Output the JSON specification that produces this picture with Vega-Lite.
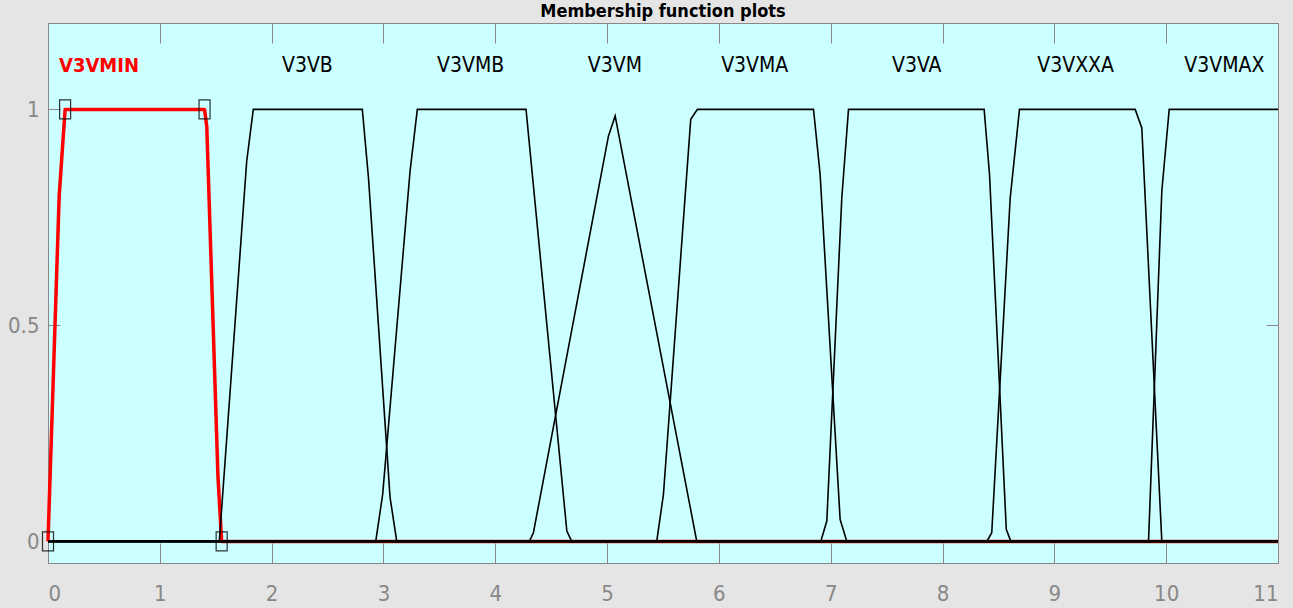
{
  "$schema": "https://vega.github.io/schema/vega-lite/v6.json",
  "width": 1230,
  "height": 540,
  "autosize": {"type": "none"},
  "padding": {"left": 48, "top": 23, "right": 15, "bottom": 45},
  "background": "#e5e5e5",
  "config": {
    "view": {"fill": "#ccffff", "stroke": "#888888", "strokeWidth": 1},
    "axis": {"grid": false, "domainColor": "#888888", "tickColor": "#888888", "labelColor": "#888888", "labelFont": "DejaVu Sans Condensed, DejaVu Sans, sans-serif", "labelFontSize": 22, "title": null}
  },
  "datasets": {
    "mf": [
      {"mf": "V3VMIN", "x": 0, "y": 0}, {"mf": "V3VMIN", "x": 0.1, "y": 0.8}, {"mf": "V3VMIN", "x": 0.153, "y": 1}, {"mf": "V3VMIN", "x": 1.4, "y": 1}, {"mf": "V3VMIN", "x": 1.42, "y": 0.96}, {"mf": "V3VMIN", "x": 1.52, "y": 0.15}, {"mf": "V3VMIN", "x": 1.553, "y": 0}, {"mf": "V3VMIN", "x": 11, "y": 0},
      {"mf": "V3VB", "x": 0, "y": 0}, {"mf": "V3VB", "x": 1.532, "y": 0}, {"mf": "V3VB", "x": 1.777, "y": 0.88}, {"mf": "V3VB", "x": 1.836, "y": 1}, {"mf": "V3VB", "x": 2.811, "y": 1}, {"mf": "V3VB", "x": 2.866, "y": 0.842}, {"mf": "V3VB", "x": 3.059, "y": 0.102}, {"mf": "V3VB", "x": 3.119, "y": 0}, {"mf": "V3VB", "x": 11, "y": 0},
      {"mf": "V3VMB", "x": 0, "y": 0}, {"mf": "V3VMB", "x": 2.931, "y": 0}, {"mf": "V3VMB", "x": 2.993, "y": 0.109}, {"mf": "V3VMB", "x": 3.238, "y": 0.857}, {"mf": "V3VMB", "x": 3.303, "y": 1}, {"mf": "V3VMB", "x": 4.275, "y": 1}, {"mf": "V3VMB", "x": 4.64, "y": 0.024}, {"mf": "V3VMB", "x": 4.684, "y": 0}, {"mf": "V3VMB", "x": 11, "y": 0},
      {"mf": "V3VM", "x": 0, "y": 0}, {"mf": "V3VM", "x": 4.305, "y": 0}, {"mf": "V3VM", "x": 4.341, "y": 0.02}, {"mf": "V3VM", "x": 5.012, "y": 0.938}, {"mf": "V3VM", "x": 5.072, "y": 0.985}, {"mf": "V3VM", "x": 5.802, "y": 0}, {"mf": "V3VM", "x": 11, "y": 0},
      {"mf": "V3VMA", "x": 0, "y": 0}, {"mf": "V3VMA", "x": 5.444, "y": 0}, {"mf": "V3VMA", "x": 5.504, "y": 0.109}, {"mf": "V3VMA", "x": 5.748, "y": 0.977}, {"mf": "V3VMA", "x": 5.808, "y": 1}, {"mf": "V3VMA", "x": 6.846, "y": 1}, {"mf": "V3VMA", "x": 6.905, "y": 0.85}, {"mf": "V3VMA", "x": 7.084, "y": 0.051}, {"mf": "V3VMA", "x": 7.144, "y": 0}, {"mf": "V3VMA", "x": 11, "y": 0},
      {"mf": "V3VA", "x": 0, "y": 0}, {"mf": "V3VA", "x": 6.911, "y": 0}, {"mf": "V3VA", "x": 6.965, "y": 0.047}, {"mf": "V3VA", "x": 7.099, "y": 0.795}, {"mf": "V3VA", "x": 7.159, "y": 1}, {"mf": "V3VA", "x": 8.372, "y": 1}, {"mf": "V3VA", "x": 8.42, "y": 0.85}, {"mf": "V3VA", "x": 8.57, "y": 0.028}, {"mf": "V3VA", "x": 8.611, "y": 0}, {"mf": "V3VA", "x": 11, "y": 0},
      {"mf": "V3VXXA", "x": 0, "y": 0}, {"mf": "V3VXXA", "x": 8.396, "y": 0}, {"mf": "V3VXXA", "x": 8.44, "y": 0.02}, {"mf": "V3VXXA", "x": 8.605, "y": 0.795}, {"mf": "V3VXXA", "x": 8.688, "y": 1}, {"mf": "V3VXXA", "x": 9.723, "y": 1}, {"mf": "V3VXXA", "x": 9.782, "y": 0.957}, {"mf": "V3VXXA", "x": 9.961, "y": 0}, {"mf": "V3VXXA", "x": 11, "y": 0},
      {"mf": "V3VMAX", "x": 0, "y": 0}, {"mf": "V3VMAX", "x": 9.842, "y": 0}, {"mf": "V3VMAX", "x": 9.961, "y": 0.811}, {"mf": "V3VMAX", "x": 10.027, "y": 1}, {"mf": "V3VMAX", "x": 11, "y": 1}
    ],
    "handles": [
      {"x": 0, "y": 0}, {"x": 0.153, "y": 1}, {"x": 1.4, "y": 1}, {"x": 1.553, "y": 0}
    ],
    "labels": [
      {"label": "V3VMIN", "x": 0.456, "y": 1.1, "sel": true},
      {"label": "V3VB", "x": 2.32, "y": 1.1, "sel": false},
      {"label": "V3VMB", "x": 3.78, "y": 1.1, "sel": false},
      {"label": "V3VM", "x": 5.07, "y": 1.1, "sel": false},
      {"label": "V3VMA", "x": 6.32, "y": 1.1, "sel": false},
      {"label": "V3VA", "x": 7.77, "y": 1.1, "sel": false},
      {"label": "V3VXXA", "x": 9.19, "y": 1.1, "sel": false},
      {"label": "V3VMAX", "x": 10.52, "y": 1.1, "sel": false}
    ],
    "title": [
      {"text": "Membership function plots", "x": 5.5, "y": 1.214}
    ]
  },
  "resolve": {"axis": {"x": "independent", "y": "independent"}},
  "layer": [
    {
      "data": {"name": "mf"},
      "transform": [{"filter": "datum.mf === 'V3VMIN'"}],
      "mark": {"type": "line", "color": "#ff0000", "strokeWidth": 3.5, "strokeJoin": "round"},
      "encoding": {
        "x": {"field": "x", "type": "quantitative", "scale": {"domain": [0, 11], "nice": false, "zero": false},
              "axis": {"orient": "bottom", "values": [0,1,2,3,4,5,6,7,8,9,10,11], "format": "d", "tickSize": -20, "labelPadding": 40, "labelBaseline": "top"}},
        "y": {"field": "y", "type": "quantitative", "scale": {"domain": [-0.05, 1.2], "nice": false, "zero": false},
              "axis": {"orient": "left", "values": [0, 0.5, 1], "format": "~g", "tickSize": -12, "labelPadding": 21}}
      }
    },
    {
      "data": {"name": "mf"},
      "transform": [{"filter": "datum.mf !== 'V3VMIN'"}],
      "mark": {"type": "line", "color": "#000000", "strokeWidth": 1.6},
      "encoding": {
        "x": {"field": "x", "type": "quantitative", "axis": {"orient": "top", "values": [0,1,2,3,4,5,6,7,8,9,10,11], "labels": false, "tickSize": -20}},
        "y": {"field": "y", "type": "quantitative", "axis": {"orient": "right", "values": [0, 0.5, 1], "labels": false, "tickSize": -12}},
        "detail": {"field": "mf"}
      }
    },
    {
      "data": {"name": "handles"},
      "mark": {"type": "point", "shape": "M-0.58,-1H0.58V1H-0.58Z", "size": 361, "filled": false, "stroke": "#000000", "strokeWidth": 1.2, "opacity": 0.8},
      "encoding": {
        "x": {"field": "x", "type": "quantitative", "axis": null},
        "y": {"field": "y", "type": "quantitative", "axis": null}
      }
    },
    {
      "data": {"name": "labels"},
      "transform": [{"filter": "!datum.sel"}],
      "mark": {"type": "text", "font": "DejaVu Sans Condensed, DejaVu Sans, sans-serif", "fontSize": 21, "align": "center", "baseline": "middle", "color": "#000000"},
      "encoding": {
        "x": {"field": "x", "type": "quantitative", "axis": null},
        "y": {"field": "y", "type": "quantitative", "axis": null},
        "text": {"field": "label"}
      }
    },
    {
      "data": {"name": "labels"},
      "transform": [{"filter": "datum.sel"}],
      "mark": {"type": "text", "font": "DejaVu Sans Condensed, DejaVu Sans, sans-serif", "fontSize": 20, "fontWeight": "bold", "align": "center", "baseline": "middle", "color": "#ff0000"},
      "encoding": {
        "x": {"field": "x", "type": "quantitative", "axis": null},
        "y": {"field": "y", "type": "quantitative", "axis": null},
        "text": {"field": "label"}
      }
    },
    {
      "data": {"name": "title"},
      "mark": {"type": "text", "font": "DejaVu Sans Condensed, DejaVu Sans, sans-serif", "fontSize": 18, "fontWeight": "bold", "align": "center", "baseline": "alphabetic", "color": "#000000"},
      "encoding": {
        "x": {"field": "x", "type": "quantitative", "axis": null},
        "y": {"field": "y", "type": "quantitative", "axis": null},
        "text": {"field": "text"}
      }
    }
  ]
}
